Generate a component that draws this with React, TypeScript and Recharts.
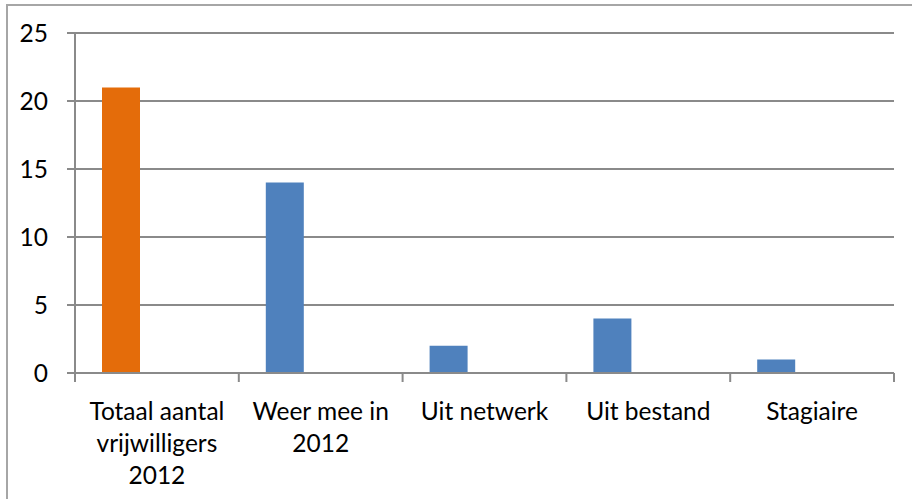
import { BarChart, Bar, XAxis, YAxis, CartesianGrid, Cell } from 'recharts';

const categories = ['Totaal aantal\nvrijwilligers\n2012', 'Weer mee in\n2012', 'Uit netwerk', 'Uit bestand', 'Stagiaire'];
const values = [21, 14, 2, 4, 1];
const yTicks = [0, 5, 10, 15, 20, 25];

const barColors = ['#E46C0A', '#4F81BD', '#4F81BD', '#4F81BD', '#4F81BD'];

const WIDTH = 912;
const HEIGHT = 499;
const MARGIN = { top: 33, right: 18, left: 15, bottom: 0 };
const Y_AXIS_WIDTH = 60;
const FONT = 'Lato, "Liberation Sans", sans-serif';
const GRID = '#8a8a8a';

const data = categories.map((name, i) => ({ name, value: values[i], empty: null }));

const plotWidth = WIDTH - MARGIN.left - MARGIN.right - Y_AXIS_WIDTH;
const band = plotWidth / categories.length;

function CategoryTick(props: any) {
  const { x, y, payload, index } = props;
  const lines = String(payload.value).split('\n');
  return (
    <g>
      <line x1={x - band / 2} y1={y} x2={x - band / 2} y2={y + 9} stroke={GRID} strokeWidth={2} />
      {index === categories.length - 1 && (
        <line x1={x + band / 2} y1={y} x2={x + band / 2} y2={y + 9} stroke={GRID} strokeWidth={2} />
      )}
      <text x={x} y={y + 47} textAnchor="middle" fill="#000" fontSize={24.5} fontFamily={FONT}>
        {lines.map((line, i) => (
          <tspan key={i} x={x} dy={i === 0 ? 0 : 32}>
            {line}
          </tspan>
        ))}
      </text>
    </g>
  );
}

export default function App() {
  return (
    <div style={{ position: 'fixed', left: 0, top: 0, width: WIDTH, height: HEIGHT, overflow: 'hidden', background: '#fff' }}>
      <div style={{ position: 'absolute', left: 6, top: 4, width: 1000, height: 600, border: '2px solid #a6a6a6' }} />
      <div style={{ position: 'absolute', left: 0, top: 0 }}>
        <BarChart width={WIDTH} height={HEIGHT} data={data} margin={MARGIN} barGap={34} barSize={38}>
          <CartesianGrid horizontal vertical={false} stroke={GRID} strokeWidth={2} />
          <XAxis
            dataKey="name"
            height={126}
            interval={0}
            axisLine={{ stroke: GRID, strokeWidth: 2 }}
            tickLine={false}
            tickSize={0}
            tickMargin={0}
            tick={<CategoryTick />}
          />
          <YAxis
            width={Y_AXIS_WIDTH}
            domain={[0, 25]}
            ticks={yTicks}
            interval={0}
            axisLine={{ stroke: GRID, strokeWidth: 2 }}
            tickLine={{ stroke: GRID, strokeWidth: 2 }}
            tickSize={8}
            tickMargin={19}
            tick={{ fill: '#000', fontSize: 24.5, fontFamily: FONT }}
          />
          <Bar dataKey="value" isAnimationActive={false}>
            {data.map((_, i) => (
              <Cell key={i} fill={barColors[i]} />
            ))}
          </Bar>
          <Bar dataKey="empty" fill="#C0504D" isAnimationActive={false} />
        </BarChart>
      </div>
    </div>
  );
}
